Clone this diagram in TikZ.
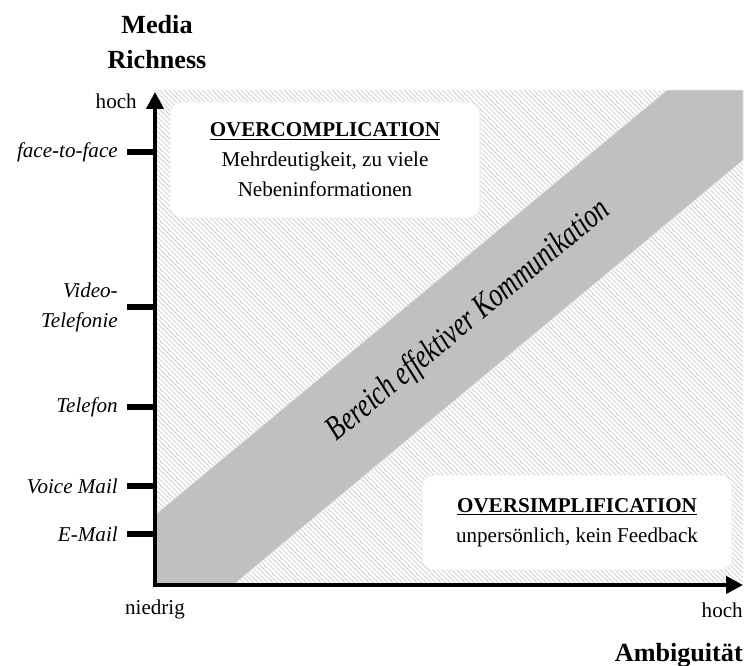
\documentclass[tikz,border=0pt]{standalone}
\usepackage{fontspec}
\setmainfont{Liberation Serif}
\usetikzlibrary{arrows.meta,positioning}
\definecolor{bandgray}{RGB}{192,192,192}

\begin{document}
\begin{tikzpicture}[font=\fontsize{15}{21.3}\selectfont,
	axis/.style={line width=2.8pt, {Triangle[length=0.42cm,width=0.42cm]}-{Triangle[length=0.42cm,width=0.42cm]}},
	tickmark/.style={line width=4.2pt},
	medium/.style={font=\fontsize{15}{21.3}\selectfont\itshape, align=right, anchor=east, inner sep=0pt},
	infobox/.style={draw=black!8, fill=white, rounded corners=0.3cm, align=center},
	axislabel/.style={font=\fontsize{18.6}{25}\selectfont\bfseries, align=center, inner sep=0pt},
	hatch/.style={black!14, line width=0.8pt}
	]
	\useasboundingbox (-3.875,-2.0) rectangle (14.775,14.625);

	% Schraffur im Diagrammfeld
	\begin{scope}
		\clip (0,0) rectangle (14.7,12.37);
		\foreach \c in {0,0.12,...,27.2}
			\draw[hatch] (\c,0) -- ++(-12.5,12.5);
	\end{scope}

	% Band: Bereich effektiver Kommunikation
	\filldraw[fill=bandgray, draw=black!12] (0,1.75) -- (12.8,12.37) -- (14.7,12.37) -- (14.7,10.625) -- (1.95,0) -- (0,0) -- cycle;
	\node[rotate=39.8, yscale=1.3, font=\fontsize{18.6}{22}\selectfont\itshape] (band) at (7.85,6.6) {Bereich effektiver Kommunikation};

	% Textfelder
	\node[infobox, minimum width=7.75cm, minimum height=2.9cm] (overc) at (4.25,10.625)
		{\underline{\textbf{OVERCOMPLICATION}}\\Mehrdeutigkeit, zu viele\\Nebeninformationen};
	\node[infobox, minimum width=7.75cm, minimum height=2.375cm] (overs) at (10.55,1.5625)
		{\underline{\textbf{OVERSIMPLIFICATION}}\\unpersönlich, kein Feedback};

	% Achsen
	\coordinate (O) at (0,0);
	\coordinate (ytop) at (0,12.325);
	\coordinate (xend) at (14.7,0);
	\draw[axis] (ytop) -- (O) -- (xend);

	% Medien an der y-Achse
	\foreach \y/\name/\txt in {10.825/ftf/face-to-face, 6.95/vid/{Video-\\Telefonie}, 4.45/tel/Telefon, 2.475/vm/Voice Mail, 1.275/em/E-Mail}
	{
		\coordinate (\name-a) at (0,\y);
		\draw[tickmark] (\name-a) -- ++(-0.7,0) coordinate (\name-b);
		\node[medium, left=0.225cm of \name-b] (\name) {\txt};
	}

	% Beschriftungen
	\node[anchor=east, inner sep=0pt] (yhoch) at (-0.45,12.1) {hoch};
	\node[inner sep=0pt] (niedrig) at (0,-0.6) {niedrig};
	\node[anchor=east, inner sep=0pt] (xhoch) at (14.7,-0.625) {hoch};
	\node[axislabel] (richness) at (0.05,13.575) {Media\\Richness};
	\node[axislabel, anchor=base east] (ambig) at (14.7,-1.9) {Ambiguität};
\end{tikzpicture}
\end{document}
